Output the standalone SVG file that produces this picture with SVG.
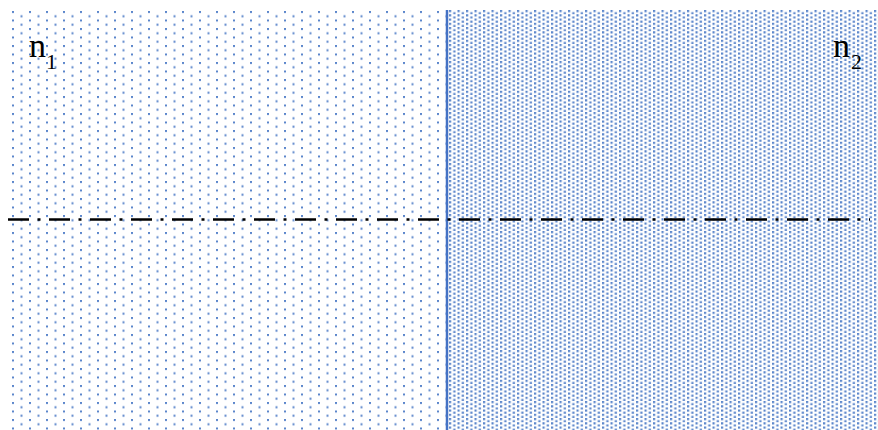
<svg xmlns="http://www.w3.org/2000/svg" width="878" height="430" viewBox="0 0 878 430">
<style>
.lbl{font-family:"Liberation Serif","DejaVu Serif",serif;fill:#000}
.big{font-size:34px}
.sub{font-size:22px}
.dot{fill:#5B86CB}
</style>
<defs>
<pattern id="sparse" x="12" y="11" width="17" height="8.5" patternUnits="userSpaceOnUse">
<rect class="dot" x="0" y="0" width="2" height="2"/>
<rect class="dot" x="8.5" y="4.25" width="2" height="2"/>
</pattern>
<pattern id="dense" x="449" y="10" width="8.5" height="4.25" patternUnits="userSpaceOnUse">
<rect class="dot" x="0" y="0" width="2.2" height="2.2"/>
<rect class="dot" x="4.25" y="2.125" width="2.2" height="2.2"/>
</pattern>
</defs>
<g id="region-n1">
<rect x="10" y="10" width="437" height="420" fill="url(#sparse)"/>
<text class="lbl big" x="29" y="57">n</text>
<text class="lbl sub" x="46" y="69">1</text>
</g>
<g id="region-n2">
<rect x="447" y="10" width="431" height="420" fill="url(#dense)"/>
<text class="lbl big" x="833" y="57">n</text>
<text class="lbl sub" x="851" y="69">2</text>
</g>
<g id="connectors">
<line x1="447" y1="10" x2="447" y2="430" stroke="#4472C4" stroke-width="2.5"/>
<line x1="8" y1="219.5" x2="870" y2="219.5" stroke="#000" stroke-width="2.5" stroke-dasharray="21 8.5 3 8.5"/>
</g>
</svg>
